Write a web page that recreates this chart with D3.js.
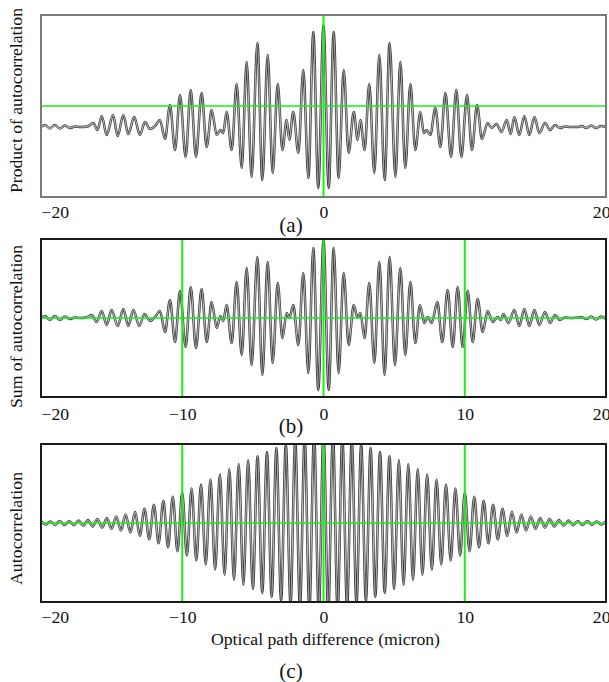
<!DOCTYPE html>
<html><head><meta charset="utf-8">
<script src="https://cdn.jsdelivr.net/npm/d3@7"></script>
<style>
html,body{margin:0;padding:0;background:#fff;}
svg{display:block;}
text{font-family:"Liberation Serif","Times New Roman",serif;fill:#111;}
</style></head>
<body>
<script>
// ---------- data ----------
// Panel (a): product of autocorrelation — extrema positions (micron) and values (a.u., baseline = 0)
const aX = [-20,-19.72,-19.37,-19.02,-18.67,-18.30,-17.95,-17.60,-17.20,-16.70,-16.30,-16.00,-15.70,-15.35,-14.90,-14.57,-14.17,-13.82,-13.40,-13.00,-12.64,-12.28,-11.93,-11.58,-11.22,-10.87,-10.51,-10.16,-9.76,-9.40,-9.03,-8.63,-8.27,-7.92,-7.56,-7.30,-7.10,-6.86,-6.50,-6.15,-5.79,-5.44,-5.09,-4.68,-4.33,-3.95,-3.60,-3.24,-2.91,-2.61,-2.42,-2.14,-1.78,-1.43,-1.07,-0.72,-0.37,0,0.37,0.72,1.07,1.43,1.78,2.14,2.42,2.61,2.91,3.24,3.60,3.95,4.33,4.68,5.09,5.44,5.79,6.15,6.50,6.86,7.10,7.30,7.56,7.92,8.27,8.63,9.03,9.40,9.76,10.16,10.51,10.87,11.22,11.62,11.90,12.25,12.60,12.97,13.25,13.51,13.86,14.22,14.57,14.93,15.28,15.68,16.04,16.39,16.74,17.10,17.50,18.00,18.28,18.60,18.95,19.30,19.65,20];
const aY = [0,2,-1.5,2,-1.5,1.5,-1,0.5,0,0.5,4,-3,11,-8,12,-9,12,-7,10,-8,5,-2,1,7,-12,22,-23,32,-30,37,-30,34,-20,17,-8,-3,-6,15,-23,43,-41,65,-50,84,-53,72,-46,43,-23,7,-13,15,-26,57,-51,95,-61,102,-61,95,-51,57,-26,15,-13,7,-23,43,-46,72,-53,84,-50,65,-41,43,-23,15,-6,-3,-8,19,-20,34,-30,37,-30,32,-23,22,-12,4,-1,3,-5,7,-7,10,-8,11,-8,10,-6,4,-3,2,-1,0.5,0,0,1,-1,1.5,-1,1,0];
const aGuide = 21;          // level of the green reference line in (a)

// Panel (b): sum of autocorrelation
const bX = [-20,-19.72,-19.37,-19.02,-18.67,-18.30,-17.95,-17.60,-17.20,-16.80,-16.41,-16.06,-15.70,-15.35,-15.00,-14.57,-14.17,-13.82,-13.46,-13.04,-12.68,-12.28,-11.93,-11.58,-11.22,-10.87,-10.51,-10.16,-9.76,-9.40,-9.03,-8.63,-8.27,-7.92,-7.56,-7.30,-7.10,-6.86,-6.50,-6.15,-5.79,-5.44,-5.09,-4.68,-4.33,-3.95,-3.60,-3.24,-2.91,-2.61,-2.42,-2.14,-1.78,-1.43,-1.07,-0.72,-0.37,0,0.37,0.72,1.07,1.43,1.78,2.14,2.42,2.61,2.91,3.24,3.60,3.95,4.33,4.68,5.06,5.44,5.79,6.15,6.50,6.83,7.14,7.37,7.66,8.06,8.41,8.79,9.15,9.50,9.85,10.21,10.56,10.91,11.27,11.62,11.98,12.33,12.55,12.73,13.10,13.51,13.86,14.22,14.57,14.93,15.28,15.68,16.04,16.39,16.74,17.10,17.50,17.90,18.28,18.62,18.95,19.30,19.65,20];
const bY = [0,2,-2,2,-2,1.5,-1,0.5,0,0.5,3,-4,7,-7,8,-8,9,-8,8,-8,4,-3,1,7,-14,18,-24,27,-29,31,-30,29,-24,16,-10,2,-3,13,-25,36,-37,50,-47,61,-57,56,-45,35,-20,5,0,13,-27,45,-55,70,-72,78,-72,70,-55,45,-27,13,0,5,-20,35,-45,56,-57,61,-47,50,-37,36,-25,13,-5,1,-5,16,-24,28,-29,31,-29,27,-24,19,-14,7,-4,1,-2,4,-5,8,-8,9,-8,8,-7,6,-5,3,-2,0.5,0,0.3,0.8,-1,1.5,-1.5,1.5,-1];
const bGuides = [-10, 0, 10];

// Panel (c): autocorrelation — fringe period and peak / trough heights, fringe index -30..30
const cPeriod = 0.667;
const cPeakIndex = [-30,-29,-28,-27,-26,-25,-24,-23,-22,-21,-20,-19,-18,-17,-16,-15,-14,-13,-12,-11,-10,-9,-8,-7,-6,-5,-4,-3,-2,-1,0,1,2,3,4,5,6,7,8,9,10,11,12,13,14,15,16,17,18,19,20,21,22,23,24,25,26,27,28,29,30];
const cPeaks = [1.5,1.5,2,2,2.5,3,4,5,6.5,8.5,11,14,18,22,26,30,34,38,43,48,53,58,62,66,70,74,78,82,85,88,90,88,85,82,78,74,70,66,62,58,53,48,43,38,34,30,26,22,18,14,11,8.5,6.5,5,4,3,2.5,2,2,1.5,1.5];
const cTroughs = [-1.5,-1.8,-2,-2.2,-2.8,-3.5,-4.5,-5.8,-7.5,-9.5,-12.5,-16,-20,-24,-28,-32,-37,-41,-46,-51,-56,-61,-65,-69,-73,-77,-80,-84,-87,-89,-89,-87,-84,-80,-77,-73,-69,-65,-61,-56,-51,-46,-41,-37,-32,-28,-24,-20,-16,-12.5,-9.5,-7.5,-5.8,-4.5,-3.5,-2.8,-2.2,-2,-1.8,-1.5];
const cGuides = [-10, 0, 10];

const ticksA = [-20, 0, 20];
const ticksBC = [-20, -10, 0, 10, 20];
const yTitles = ["Product of autocorrelation", "Sum of autocorrelation", "Autocorrelation"];
const panelTags = ["(a)", "(b)", "(c)"];
const xTitle = "Optical path difference (micron)";

// ---------- drawing ----------
const W = 609, H = 682;
const svg = d3.select("body").append("svg").attr("width", W).attr("height", H);
const GREEN = "#19ee19";
const x = d3.scaleLinear().domain([-20, 20]).range([41, 606]);

function toPts(xs, ys){ return xs.map((v,i)=>[v, ys[i]]); }
const cPts = [];
cPeakIndex.forEach((k,i)=>{
  cPts.push([k*cPeriod, cPeaks[i]]);
  if (i < cTroughs.length) cPts.push([(k+0.5)*cPeriod, cTroughs[i]]);
});

const panels = [
  {pts: toPts(aX,aY), dom:[-70,112], top:15, bot:197, border:"#7a7a7a", hLine:aGuide, vLines:[0], ticks:ticksA, tickY:218, tagY:232, title:yTitles[0], titleY:100.5, titleLen:185},
  {pts: toPts(bX,bY), dom:[-79,79], top:239, bot:397, border:"#1a1a1a", hLine:0, vLines:bGuides, ticks:ticksBC, tickY:420, tagY:433, title:yTitles[1], titleY:326.5, titleLen:163},
  {pts: cPts, dom:[-78,78], top:444, bot:602, border:"#1a1a1a", hLine:0, vLines:cGuides, ticks:ticksBC, tickY:623, tagY:678, title:yTitles[2], titleY:528.5, titleLen:113}
];

panels.forEach((p, idx) => {
  const y = d3.scaleLinear().domain(p.dom).range([p.bot, p.top]);
  const g = svg.append("g");
  const cid = "clip" + idx;
  svg.append("clipPath").attr("id", cid).append("rect")
    .attr("x", x(-20)).attr("y", p.top).attr("width", x(20)-x(-20)).attr("height", p.bot-p.top);

  const line = d3.line().x(d=>x(d[0])).y(d=>y(d[1])).curve(d3.curveMonotoneX);
  const plot = g.append("g").attr("clip-path", `url(#${cid})`);
  plot.append("path").attr("d", line(p.pts)).attr("fill","none")
    .attr("stroke","#3c3c3c").attr("stroke-width",2.5).attr("stroke-linejoin","round");
  plot.append("path").attr("d", line(p.pts)).attr("fill","none")
    .attr("stroke","#b8b8b8").attr("stroke-width",1.1).attr("stroke-linejoin","round");

  // green guide lines
  plot.append("line").attr("x1", x(-20)).attr("x2", x(20)).attr("y1", y(p.hLine)).attr("y2", y(p.hLine))
    .attr("stroke", GREEN).attr("stroke-width", 1.5);
  p.vLines.forEach(v => {
    plot.append("line").attr("x1", x(v)).attr("x2", x(v)).attr("y1", p.top).attr("y2", p.bot)
      .attr("stroke", GREEN).attr("stroke-width", 2);
  });

  // frame
  g.append("rect").attr("x", x(-20)).attr("y", p.top).attr("width", x(20)-x(-20)).attr("height", p.bot-p.top)
    .attr("fill","none").attr("stroke", p.border).attr("stroke-width", 2);

  // x axis labels
  const ax = d3.axisBottom(x).tickValues(p.ticks).tickSize(0)
    .tickFormat(d => d < 0 ? "\u2212" + Math.abs(d) : String(d));
  const axg = g.append("g").attr("transform", `translate(0,${p.tickY})`).call(ax)
    .attr("font-family", null).attr("font-size", null);
  axg.select(".domain").remove();
  axg.selectAll("text").attr("y", 0).attr("dy", 0)
    .style("font-family", '"Liberation Serif", serif').style("font-size", "17.7px").attr("fill", "#111");
  axg.selectAll("text").filter(d => d === -20).attr("text-anchor", "start");
  axg.selectAll("text").filter(d => d === 20).attr("text-anchor", "end").attr("dx", 4);

  // panel tag
  g.append("text").attr("x", 291).attr("y", p.tagY).attr("text-anchor","middle")
    .style("font-size","21px").text(panelTags[idx]);

  // y title
  g.append("text").attr("transform", `translate(22,${p.titleY}) rotate(-90)`)
    .attr("text-anchor","middle").style("font-size","17.7px")
    .attr("textLength", p.titleLen).attr("lengthAdjust","spacing").text(p.title);
});

svg.append("text").attr("x", 325.5).attr("y", 645).attr("text-anchor","middle")
  .style("font-size","17.7px").attr("textLength", 229).attr("lengthAdjust","spacing").text(xTitle);
</script>
</body></html>
